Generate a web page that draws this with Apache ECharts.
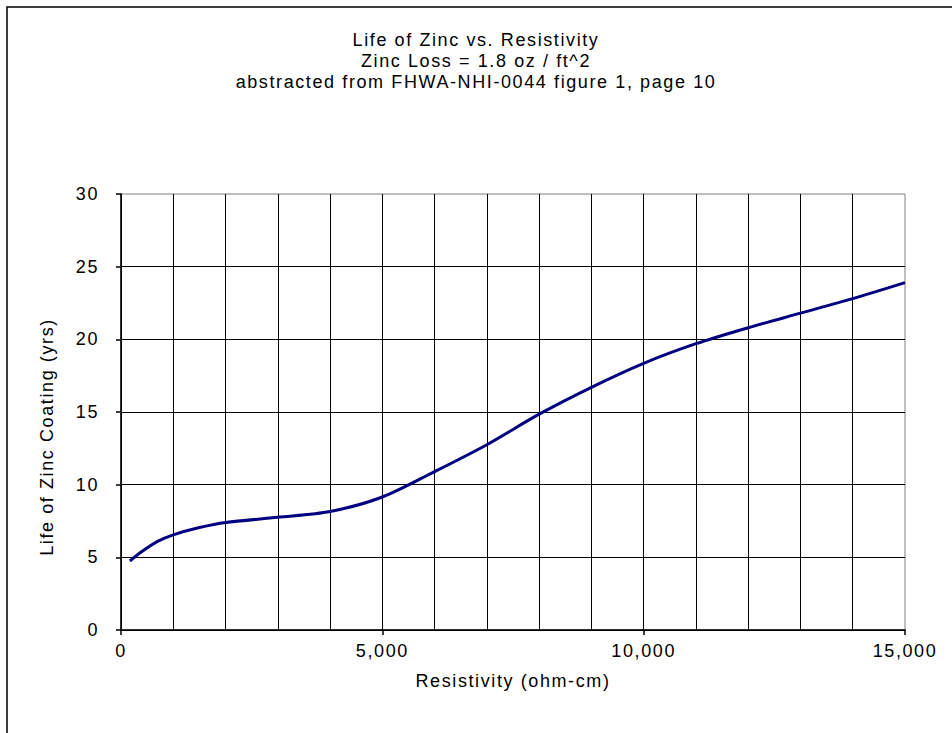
<!DOCTYPE html>
<html>
<head>
<meta charset="utf-8">
<script src="https://cdn.jsdelivr.net/npm/echarts@6/dist/echarts.min.js"></script>
<style>
  html, body { margin: 0; padding: 0; background: #fff; }
  #chart { width: 952px; height: 733px; }
  #chart text { letter-spacing: 1.6px; }
</style>
</head>
<body>
<div id="chart"></div>
<script>
// Resistivity (ohm-cm)
const resistivity = [170, 400, 700, 1000, 1500, 2000, 3000, 4000, 5000, 6000, 7000, 8000, 9000, 10000, 11000, 12000, 13000, 14000, 15000];
// Life of zinc coating (yrs)
const lifeYears = [4.75, 5.4, 6.1, 6.55, 7.05, 7.4, 7.75, 8.15, 9.15, 10.9, 12.75, 14.85, 16.7, 18.35, 19.7, 20.8, 21.8, 22.8, 23.9];
const xTickLabels = [0, 5000, 10000, 15000];
const yTickLabels = [0, 5, 10, 15, 20, 25, 30];
const titleLines = ['Life of Zinc vs. Resistivity', 'Zinc Loss = 1.8 oz / ft^2', 'abstracted from FHWA-NHI-0044 figure 1, page 10'];
const xName = 'Resistivity (ohm-cm)';
const yName = 'Life of Zinc Coating (yrs)';

const FONT = '"Liberation Sans", Arial, sans-serif';
const chart = echarts.init(document.getElementById('chart'), null, { renderer: 'svg' });

const titleStyle = { fontFamily: FONT, fontSize: 18, fontWeight: 'normal', color: '#000' };

chart.setOption({
  animation: false,
  backgroundColor: '#fff',
  title: titleLines.map((t, i) => ({
    text: t, left: 'center', top: 31 + i * 21, padding: 0, textStyle: titleStyle
  })),
  grid: {
    left: 121, right: 47, top: 194, bottom: 103,
    show: true, borderColor: '#808080', borderWidth: 1, backgroundColor: 'transparent'
  },
  xAxis: [{
    // grid axis: vertical lines every 1000
    type: 'value', min: 0, max: 15000, interval: 1000,
    axisLine: { show: false },
    axisTick: { show: false },
    axisLabel: { show: false },
    splitLine: { show: true, showMaxLine: false, lineStyle: { color: '#000', width: 1 } }
  }, {
    // labelled axis: ticks and labels every 5000
    type: 'value', min: 0, max: 15000, interval: 5000, position: 'bottom',
    name: xName, nameLocation: 'middle', nameGap: 42,
    nameTextStyle: { fontFamily: FONT, fontSize: 18, color: '#000' },
    axisLine: { show: true, lineStyle: { color: '#000', width: 1.5 } },
    axisTick: { show: true, inside: false, length: 5, lineStyle: { color: '#000', width: 1.5 } },
    axisLabel: { margin: 12, fontFamily: FONT, fontSize: 18, color: '#000',
      formatter: v => (xTickLabels.indexOf(v) >= 0 ? v.toLocaleString('en-US') : '') },
    splitLine: { show: false }
  }],
  yAxis: {
    type: 'value', min: 0, max: 30, interval: 5,
    axisLine: { show: true, lineStyle: { color: '#000', width: 1.5 } },
    axisTick: { show: true, inside: false, length: 5, lineStyle: { color: '#000', width: 1.5 } },
    axisLabel: { margin: 22, fontFamily: FONT, fontSize: 18, color: '#000',
      formatter: v => (yTickLabels.indexOf(v) >= 0 ? String(v) : '') },
    splitLine: { show: true, showMaxLine: false, lineStyle: { color: '#000', width: 1 } }
  },
  graphic: [
    { type: 'rect', silent: true, z: 100,
      shape: { x: 7, y: 7, width: 1200, height: 1200 },
      style: { fill: 'none', stroke: '#000', lineWidth: 1.5 } },
    { type: 'text', silent: true, x: 47, y: 437, rotation: Math.PI / 2,
      style: { text: yName, fontFamily: FONT, fontSize: 18, fill: '#000', align: 'center', verticalAlign: 'middle' } }
  ],
  series: [{
    type: 'line',
    xAxisIndex: 0,
    data: resistivity.map((x, i) => [x, lifeYears[i]]),
    smooth: 0.3,
    showSymbol: false,
    lineStyle: { color: '#000080', width: 3 },
    itemStyle: { color: '#000080' }
  }]
});
</script>
</body>
</html>
